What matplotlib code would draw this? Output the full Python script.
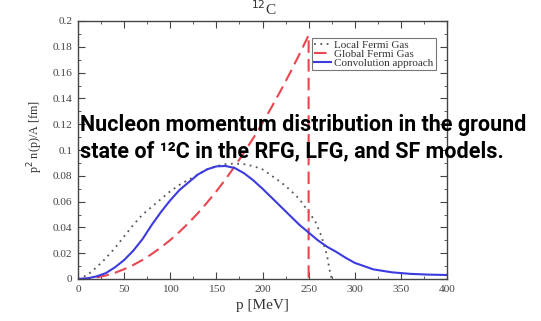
import matplotlib
matplotlib.use("Agg")
import matplotlib.pyplot as plt
from matplotlib.ticker import MultipleLocator

# ---- data ----
p_lfg = [0, 10, 20, 30, 40, 50, 60, 70, 80, 90, 100, 110, 120, 130, 140, 150, 160, 170,
         180, 190, 200, 210, 220, 230, 240, 250, 257, 264, 270, 273, 275]
v_lfg = [0, 0.003, 0.009, 0.016, 0.024, 0.033, 0.042, 0.050, 0.056, 0.062, 0.068, 0.073,
         0.077, 0.081, 0.085, 0.0875, 0.089, 0.0895, 0.089, 0.0875, 0.085, 0.080, 0.075,
         0.069, 0.062, 0.052, 0.045, 0.033, 0.018, 0.006, 0.0]

p_rfg = [0, 10, 20, 30, 40, 50, 60, 70, 80, 90, 100, 110, 120, 130, 140, 150, 160, 170,
         180, 190, 200, 210, 220, 230, 240, 250, 250]
v_rfg = [0, 0.0003, 0.0012, 0.0027, 0.0048, 0.0076, 0.0109, 0.0148, 0.0194, 0.0245, 0.0302,
         0.0366, 0.0435, 0.0511, 0.0593, 0.0680, 0.0774, 0.0874, 0.0980, 0.1092, 0.1210,
         0.1334, 0.1464, 0.1600, 0.1742, 0.1890, 0.0]

p_sf = [0, 10, 20, 30, 40, 50, 60, 70, 80, 90, 100, 110, 120, 130, 140, 150, 160, 170, 180,
        190, 200, 210, 220, 230, 240, 250, 260, 270, 280, 290, 300, 320, 340, 360, 380, 400]
v_sf = [0, 0.0005, 0.002, 0.0045, 0.009, 0.0147, 0.022, 0.031, 0.042, 0.052, 0.061, 0.069,
        0.075, 0.081, 0.085, 0.0873, 0.0876, 0.086, 0.082, 0.0765, 0.070, 0.063, 0.056,
        0.049, 0.042, 0.036, 0.030, 0.025, 0.021, 0.0165, 0.0125, 0.0075, 0.0052, 0.004,
        0.0034, 0.0031]

series_labels = ["Local Fermi Gas", "Global Fermi Gas", "Convolution approach"]
x_ticks = [0, 50, 100, 150, 200, 250, 300, 350, 400]
y_ticks = [0, 0.02, 0.04, 0.06, 0.08, 0.1, 0.12, 0.14, 0.16, 0.18, 0.2]
y_tick_labels = ["0", "0.02", "0.04", "0.06", "0.08", "0.1", "0.12", "0.14", "0.16", "0.18", "0.2"]

serif = ["Liberation Serif", "DejaVu Serif"]

fig = plt.figure(figsize=(5.41, 3.21), dpi=100)
ax = fig.add_axes([78 / 541, 42 / 321, 369 / 541, 258 / 321])

ax.plot(p_lfg, v_lfg, color="#555555", linestyle=(0, (1, 2.5)), lw=1.3, label=series_labels[0])
ax.plot(p_rfg, v_rfg, color="#e8474f", linestyle=(0, (6, 3)), lw=1.5, label=series_labels[1])
ax.plot(p_sf, v_sf, color="#3b3be0", lw=1.5, label=series_labels[2])

ax.set_xlim(0, 400)
ax.set_ylim(0, 0.2)
ax.set_xticks(x_ticks)
ax.set_xticklabels([str(t) for t in x_ticks], family=serif, fontsize=8.2, color="#444444")
ax.set_yticks(y_ticks)
ax.set_yticklabels(y_tick_labels, family=serif, fontsize=8.2, color="#444444")
ax.xaxis.set_minor_locator(MultipleLocator(25))
ax.yaxis.set_minor_locator(MultipleLocator(0.01))
ax.tick_params(which="both", direction="in", top=True, right=True, color="#444444")
ax.tick_params(which="major", length=5, width=0.8, pad=4)
ax.tick_params(which="minor", length=2.5, width=0.6)
for s in ax.spines.values():
    s.set_color("#444444")
    s.set_linewidth(1.0)

ax.set_xlabel("p [MeV]", family=serif, fontsize=11, color="#333333", labelpad=4)
ax.set_ylabel("p$^{2}$ n(p)/A [fm]", family=serif, fontsize=8.7, color="#333333")
ax.yaxis.set_label_coords((45 - 78) / 369, (279 - 136) / 258)

leg = ax.legend(loc="upper left", bbox_to_anchor=((312 - 78) / 369, (279 - 38) / 258),
                prop={"family": serif, "size": 8.0}, frameon=True, fancybox=False,
                edgecolor="#555555", handlelength=1.5, borderpad=0.2, labelspacing=-0.08,
                handletextpad=0.3, borderaxespad=0)
leg.get_frame().set_linewidth(0.8)
for t in leg.get_texts():
    t.set_color("#333333")

fig.text(264 / 541, 1 - 15 / 321, "$^{12}$C", family=serif, fontsize=11, color="#333333",
         ha="center", va="baseline")

overlay_font = ["Roboto", "DejaVu Sans"]
fig.text(80 / 541, 1 - 131 / 321, "Nucleon momentum distribution in the ground",
         family=overlay_font, fontweight="bold", fontsize=15.5,
         color="black", ha="left", va="baseline")
fig.text(80 / 541, 1 - 157 / 321, "state of \u00b9\u00b2C in the RFG, LFG, and SF models.",
         family=overlay_font, fontweight="bold", fontsize=15.5,
         color="black", ha="left", va="baseline")

fig.savefig("out.png", dpi=100)
